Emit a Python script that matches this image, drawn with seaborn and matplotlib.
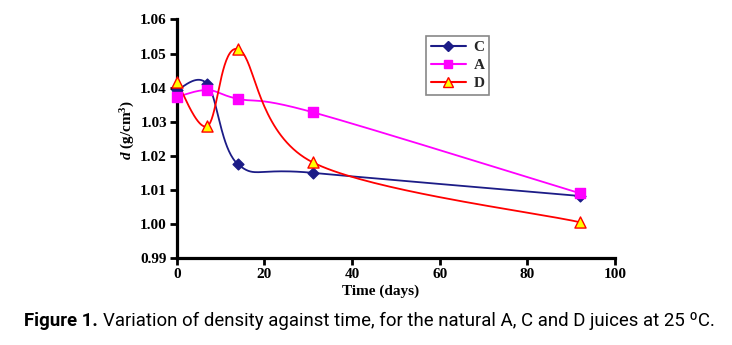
import numpy as np
import pandas as pd
import matplotlib
matplotlib.use("Agg")
import matplotlib.pyplot as plt
from matplotlib.lines import Line2D
import seaborn as sns

# ---- data ----
days = [0, 7, 14, 31, 92]
juice_C = [1.0393, 1.0410, 1.0175, 1.0150, 1.0082]
juice_A = [1.0373, 1.0393, 1.0367, 1.0328, 1.0090]
juice_D = [1.0418, 1.0287, 1.0513, 1.0181, 1.0005]
series_names = ["C", "A", "D"]
x_ticks = [0, 20, 40, 60, 80, 100]
y_ticks = [0.99, 1.00, 1.01, 1.02, 1.03, 1.04, 1.05, 1.06]

W, H = 732, 345
sns.set_theme(style="ticks")
plt.rcParams["font.family"] = ["Liberation Serif", "DejaVu Serif"]
plt.rcParams["mathtext.fontset"] = "custom"
plt.rcParams["mathtext.rm"] = "Liberation Serif:bold"
plt.rcParams["mathtext.it"] = "Liberation Serif:italic:bold"
plt.rcParams["mathtext.bf"] = "Liberation Serif:bold"


def smooth(xs, ys, n=40):
    """Catmull-Rom smoothed line through the measured points (display only)."""
    px = np.asarray(xs, float)
    py = np.asarray(ys, float)
    P = np.column_stack([px / 100.0 * 438.0, py / 0.07 * 238.0])
    P = np.vstack([P[0], P, P[-1]])
    out = []
    t = np.linspace(0, 1, n)
    for i in range(1, len(P) - 2):
        p0, p1, p2, p3 = P[i - 1], P[i], P[i + 1], P[i + 2]
        m1 = (p2 - p0) / 2
        m2 = (p3 - p1) / 2
        h00 = 2 * t**3 - 3 * t**2 + 1
        h10 = t**3 - 2 * t**2 + t
        h01 = -2 * t**3 + 3 * t**2
        h11 = t**3 - t**2
        seg = (h00[:, None] * p1 + h10[:, None] * m1 +
               h01[:, None] * p2 + h11[:, None] * m2)
        out.append(seg if i == 1 else seg[1:])
    S = np.vstack(out)
    return S[:, 0] * 100.0 / 438.0, S[:, 1] * 0.07 / 238.0


fig = plt.figure(figsize=(W / 100, H / 100), dpi=100)
ax = fig.add_axes([176.7 / W, 1 - 258 / H, (615 - 176.7) / W, (258 - 19.5) / H])

styles = {
    "C": dict(color="#1c1c87", marker="D", mfc="#1c1c87", mec="#1c1c87", ms=5.5),
    "A": dict(color="#ff00ff", marker="s", mfc="#ff00ff", mec="#ff00ff", ms=7),
    "D": dict(color="#ff0000", marker="^", mfc="#ffff00", mec="#ff0000", ms=8),
}
values = {"C": juice_C, "A": juice_A, "D": juice_D}

for name in series_names:
    st = styles[name]
    sx, sy = smooth(days, values[name])
    curve = pd.DataFrame({"x": sx, "y": sy})
    sns.lineplot(data=curve, x="x", y="y", ax=ax, color=st["color"], lw=1.3,
                 sort=False, estimator=None)
    pts = pd.DataFrame({"x": days, "y": values[name]})
    sns.scatterplot(data=pts, x="x", y="y", ax=ax, marker=st["marker"],
                    s=st["ms"] ** 2, color=st["mfc"], edgecolor=st["mec"],
                    linewidth=1.0, zorder=5, clip_on=False)

ax.set_xlim(0, 100)
ax.set_ylim(0.99, 1.06)
ax.set_xticks(x_ticks)
ax.set_yticks(y_ticks)
ax.set_yticklabels([f"{v:.2f}" for v in y_ticks])
ax.set_xlabel("")
ax.set_ylabel("")
sns.despine(ax=ax)
for sp in ["left", "bottom"]:
    ax.spines[sp].set_linewidth(2.3)
    ax.spines[sp].set_color("black")
ax.tick_params(axis="both", which="major", length=5, width=2.0, color="black",
               labelsize=11, pad=2)
for lab in ax.get_xticklabels() + ax.get_yticklabels():
    lab.set_fontweight("bold")
    lab.set_color("black")

# axis titles
fig.text(381 / W, 1 - 291 / H, "Time (days)", ha="center", va="center",
         fontsize=11, fontweight="bold", color="black")
fig.text(128 / W, 1 - 130 / H, r"$d$ (g/cm$^{3}$)", ha="center", va="center",
         rotation=90, fontsize=11, fontweight="bold", color="black")

# legend
handles = []
for name in series_names:
    st = styles[name]
    handles.append(Line2D([0], [0], color=st["color"], lw=1.5, marker=st["marker"],
                          mfc=st["mfc"], mec=st["mec"], ms=st["ms"] * 0.85))
leg = fig.legend(handles, series_names, loc="upper left",
                 bbox_to_anchor=(426 / W, 1 - 36 / H), frameon=True,
                 fancybox=False, framealpha=1, edgecolor="#888888",
                 prop={"family": "Liberation Serif", "weight": "bold", "size": 11},
                 handlelength=2.3, handletextpad=0.5, labelspacing=0.27,
                 borderpad=0.3, borderaxespad=0)
leg.get_frame().set_linewidth(1.2)

# caption
cap_fam = ["Roboto", "DejaVu Sans"]
cap_size = 13.4
fig.canvas.draw()
r = fig.canvas.get_renderer()
t1 = fig.text(24 / W, 1 - 326 / H, "Figure 1.", ha="left", va="baseline",
              fontsize=cap_size, fontweight="bold", family=cap_fam, color="black")
bb = t1.get_window_extent(renderer=r)
fig.text((bb.x1 + 5) / W, 1 - 326 / H,
         "Variation of density against time, for the natural A, C and D juices at 25 \u00baC.",
         ha="left", va="baseline", fontsize=cap_size, family=cap_fam, color="black")

fig.savefig("out.png", dpi=100)
